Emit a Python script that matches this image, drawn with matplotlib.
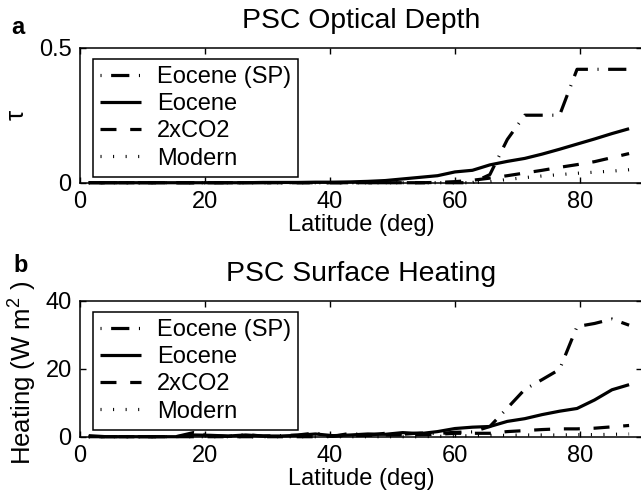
import numpy as np
import matplotlib.pyplot as plt

plt.rcParams['font.family'] = ['Liberation Sans', 'DejaVu Sans']
plt.rcParams['font.size'] = 17
plt.rcParams['mathtext.fontset'] = 'custom'
plt.rcParams['mathtext.rm'] = 'Liberation Sans'

# model latitudes (deg)
lat = [1.40, 4.19, 6.98, 9.77, 12.56, 15.35, 18.14, 20.93, 23.72, 26.51,
       29.30, 32.09, 34.88, 37.67, 40.47, 43.26, 46.05, 48.84, 51.63, 54.42,
       57.21, 60.00, 62.79, 65.58, 68.37, 71.16, 73.95, 76.74, 79.53, 82.33,
       85.12, 87.86]

# PSC optical depth
tau_sp = [0] * 22 + [0.0, 0.03, 0.16, 0.25, 0.25, 0.25, 0.42, 0.42, 0.42, 0.42]
tau_eo = [0] * 10 + [0.001, 0.001, 0.001, 0.002,
                     0.002, 0.003, 0.005, 0.008, 0.014, 0.02, 0.026, 0.04,
                     0.046, 0.066, 0.079, 0.09, 0.106, 0.124, 0.143, 0.162,
                     0.182, 0.2]
tau_2x = [0] * 20 + [0.001, 0.004, 0.009, 0.017, 0.026, 0.036, 0.046, 0.057,
                     0.067, 0.078, 0.093, 0.108]
tau_mod = [0] * 23 + [0.004, 0.012, 0.019, 0.025, 0.03, 0.035, 0.039, 0.043,
                      0.048]

# PSC surface heating (W m-2)
heat_sp = [0, 0, 0, 0, 0, 0, 1.2, 0.3, 0.1, 0.6, 0.2, 0.3, 0.5, 1.1, 0.1,
           1.0, 0.4, 1.0, 0.7, 1.1, 0.9, 1.3, 1.4,
           3.0, 8.4, 13.9, 16.8, 19.8, 32.4, 33.3, 34.6, 32.8]
heat_eo = [0.3, 0, 0, 0, 0, 0, 0.5, 0.4, 0.2, 0.5, 0.2, 0.2, 0.4, 0.8,
           0.3, 0.5, 0.8, 0.7, 1.2, 0.9, 1.5, 2.4, 2.8,
           3.0, 4.5, 5.3, 6.5, 7.5, 8.3, 10.8, 13.8, 15.3]
heat_2x = [0] * 14 + [0.2, 0.3, 0.4, 0.5, 0.5, 0.6, 0.7, 1.0, 1.0, 1.0, 1.5,
                      1.8, 2.1, 2.3, 2.3, 2.5, 2.9, 3.3]
heat_mod = [0] * 20 + [0.1, 0.2, 0.3, 0.4, 0.4, 0.5, 0.5, 0.5, 0.6, 0.6,
                       0.7, 0.8]

labels = ['Eocene (SP)', 'Eocene', '2xCO2', 'Modern']
styles = [(0, (0.33, 3, 5.7, 3)), '-', (0, (5, 4.3)), (0, (0.33, 3.6))]

fig = plt.figure(figsize=(6.41, 4.98), dpi=100)
ax1 = fig.add_axes([0.1248, 0.6331, 0.8775, 0.2711])
ax2 = fig.add_axes([0.1248, 0.1231, 0.8775, 0.2731])


def draw_panel(ax, series, ylim, yticks, title, ylabel, leg_xy):
    for data, ls, lab in zip(series, styles, labels):
        ax.plot(lat, data, color='black', lw=2.3, linestyle=ls,
                dash_capstyle='butt', solid_capstyle='butt',
                label=lab, clip_on=False)
    ax.set_xlim(0, 90)
    ax.set_ylim(*ylim)
    ax.set_xticks([0, 20, 40, 60, 80])
    ax.set_yticks(yticks)
    ax.tick_params(direction='in', length=4, width=1, top=True, right=True,
                   pad=6)
    for sp in ax.spines.values():
        sp.set_linewidth(1.1)
    ax.set_title(title, pad=14)
    ax.set_xlabel('Latitude (deg)', labelpad=1)
    ax.set_ylabel(ylabel, fontsize=18.5)
    leg = ax.legend(loc='upper left', bbox_to_anchor=leg_xy,
                    bbox_transform=fig.transFigure, borderaxespad=0,
                    fancybox=False, edgecolor='black', framealpha=1,
                    handlelength=1.75, handletextpad=0.65, labelspacing=0.22,
                    borderpad=0.3)
    leg.get_frame().set_linewidth(1.1)


draw_panel(ax1, [tau_sp, tau_eo, tau_2x, tau_mod], (0, 0.5), [0, 0.5],
           'PSC Optical Depth', 'τ', (93 / 641, 1 - 59 / 498))
ax1.set_yticklabels(['0', '0.5'])
ax1.yaxis.set_label_coords(-0.092, 0.5)

draw_panel(ax2, [heat_sp, heat_eo, heat_2x, heat_mod], (0, 40), [0, 20, 40],
           'PSC Surface Heating', 'Heating (W m$^{2}$ )',
           (93 / 641, 1 - 312 / 498))
ax2.yaxis.set_label_coords(-0.075, 0.47)

fig.text(0.0273, 1 - 27 / 498, 'a', fontweight='bold', ha='center',
         va='center')
fig.text(0.0328, 1 - 265 / 498, 'b', fontweight='bold', ha='center',
         va='center')

fig.savefig('out.png', dpi=100)
